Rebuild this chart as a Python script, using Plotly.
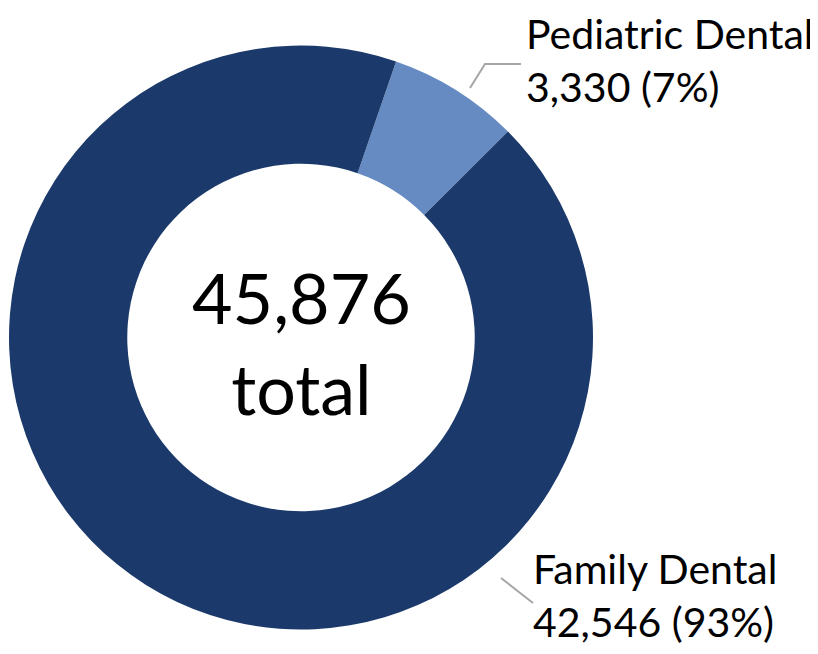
import plotly.graph_objects as go

labels = ["Pediatric Dental", "Family Dental"]
values = [3330, 42546]
colors = ["#668AC2", "#1B3A6B"]
total_text = "45,876<br>total"
label_texts = ["Pediatric Dental<br>3,330 (7%)", "Family Dental<br>42,546 (93%)"]

W, H = 818, 654
FONT = "Lato"

fig = go.Figure()
fig.add_trace(go.Pie(
    labels=labels,
    values=values,
    hole=0.595,
    sort=False,
    direction="clockwise",
    rotation=19,
    marker=dict(colors=colors, line=dict(width=0)),
    textinfo="none",
    hoverinfo="label+value+percent",
    showlegend=False,
    domain=dict(x=[1 / W, 585 / W], y=[1 - 622 / H, 1 - 37 / H]),
))

def px(x):
    return x / W

def py(y):
    return 1 - y / H

# center total
fig.add_annotation(x=px(293), y=py(334), xref="paper", yref="paper",
                   text=total_text, showarrow=False, xanchor="center", yanchor="middle",
                   font=dict(family=FONT, size=70, color="#000000"))

# labels
fig.add_annotation(x=px(517), y=py(0), xref="paper", yref="paper",
                   text=label_texts[0], showarrow=False, xanchor="left", yanchor="top",
                   align="left", borderpad=0,
                   font=dict(family=FONT, size=41, color="#000000"))
fig.add_annotation(x=px(523), y=py(534), xref="paper", yref="paper",
                   text=label_texts[1], showarrow=False, xanchor="left", yanchor="top",
                   align="left", font=dict(family=FONT, size=41, color="#000000"))

line_style = dict(color="#A6A6A6", width=2)
fig.add_shape(type="path", xref="paper", yref="paper",
              path=f"M {px(462)} {py(80)} L {px(477)} {py(56)} L {px(513)} {py(56)}",
              line=line_style)
fig.add_shape(type="line", xref="paper", yref="paper",
              x0=px(493), y0=py(570), x1=px(525), y1=py(595), line=line_style)

fig.update_layout(
    width=W, height=H,
    margin=dict(l=0, r=0, t=0, b=0),
    paper_bgcolor="white", plot_bgcolor="white",
)

fig.write_html("out.html")
